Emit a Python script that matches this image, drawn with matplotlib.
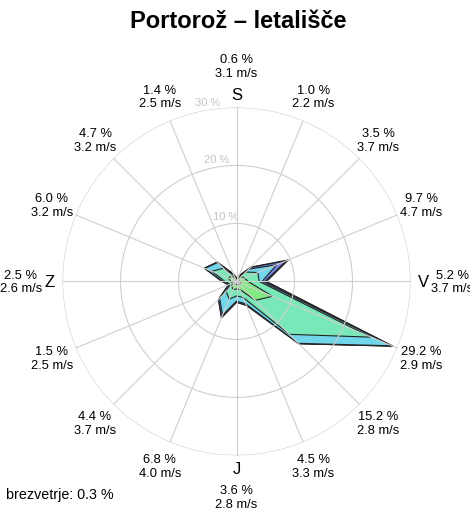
#!/usr/bin/env python3
"""Wind rose for Portorož airport, stacked by speed class."""

import numpy as np
from matplotlib import pyplot as plt

plt.rcParams["font.family"] = ["Liberation Sans", "DejaVu Sans"]

directions = ["N", "NNE", "NE", "ENE", "E", "ESE", "SE", "SSE",
              "S", "SSW", "SW", "WSW", "W", "WNW", "NW", "NNW"]
freq = [0.6, 1.0, 3.5, 9.7, 5.2, 29.2, 15.2, 4.5,
        3.6, 6.8, 4.4, 1.5, 2.5, 6.0, 4.7, 1.4]
mean_speed = [3.1, 2.2, 3.7, 4.7, 3.7, 2.9, 2.8, 3.3,
              2.8, 4.0, 3.7, 2.5, 2.6, 3.2, 3.2, 2.5]
calm = 0.3

# share of each speed class per direction (%), lowest class first
class_1 = [0.3, 0.3, 0.5, 0.5, 0.6, 0.8, 0.7, 0.5, 0.5, 0.5, 0.4, 0.3, 0.3, 0.4, 0.4, 0.3]
class_2 = [0.1, 0.2, 0.7, 1.0, 1.4, 5.9, 3.9, 1.0, 0.8, 1.0, 0.8, 0.4, 0.7, 1.1, 0.9, 0.4]
class_3 = [0.1, 0.3, 1.1, 2.5, 1.9, 18.4, 8.3, 1.5, 1.2, 1.8, 1.3, 0.5, 1.0, 3.1, 1.9, 0.4]
class_4 = [0.1, 0.2, 0.7, 3.5, 0.5, 3.9, 2.2, 1.2, 0.9, 3.0, 1.6, 0.2, 0.4, 1.3, 1.4, 0.2]
class_5 = [0.0, 0.0, 0.4, 1.8, 0.5, 0.1, 0.1, 0.2, 0.2, 0.4, 0.3, 0.1, 0.1, 0.1, 0.1, 0.1]
class_6 = [0.0, 0.0, 0.1, 0.4, 0.3, 0.1, 0.0, 0.1, 0.0, 0.1, 0.0, 0.0, 0.0, 0.0, 0.0, 0.0]
class_colors = ["#b4b4b4", "#84ea84", "#78e8b8", "#72d6ea", "#7488e6", "#34449c"]

cardinals = {"N": "S", "E": "V", "S": "J", "W": "Z"}
ring_ticks = [10, 20, 30]

theta = np.deg2rad(np.arange(len(directions)) * 360 / len(directions))
stack = np.cumsum([class_1, class_2, class_3, class_4, class_5, class_6], axis=0)

fig = plt.figure(figsize=(4.7, 5.1), dpi=100)
ax = fig.add_axes([0.133, 0.105, 0.7404, 0.6824], projection="polar")
ax.set_theta_zero_location("N")
ax.set_theta_direction(-1)
ax.set_ylim(0, 30)
ax.spines["polar"].set_visible(False)
ax.set_xticks(theta)
ax.set_xticklabels([])
ax.set_yticks(ring_ticks)
ax.set_yticklabels([])
ax.grid(True, color="#cfcfcf", linewidth=0.8)
ax.set_axisbelow(False)

th = np.append(theta, theta[0])
for level in range(len(class_colors) - 1, -1, -1):
    r = np.append(stack[level], stack[level][0])
    ax.fill(th, r, facecolor=class_colors[level], edgecolor="#222222",
            linewidth=0.8, zorder=1)

for t in ring_ticks:
    ax.text(np.deg2rad(-9), t + 1.4, f"{t} %", color="#c4c4c4", fontsize=8,
            ha="center", va="center")

for i, d in enumerate(directions):
    r = 37.2 if d in cardinals else 34.5
    ax.text(theta[i], r, f"{freq[i]:.1f} %\n{mean_speed[i]:.1f} m/s",
            fontsize=9.3, ha="center", va="center", clip_on=False)
    if d in cardinals:
        ax.text(theta[i], 32.2, cardinals[d], fontsize=12,
                ha="center", va="center", clip_on=False)

fig.text(0.507, 1 - 21 / 510, "Portorož – letališče", fontsize=17,
         fontweight="bold", ha="center", va="center")
fig.text(6 / 470, 1 - 495 / 510, f"brezvetrje: {calm:.1f} %", fontsize=10.3,
         ha="left", va="center")

fig.savefig("out.png", dpi=100)
